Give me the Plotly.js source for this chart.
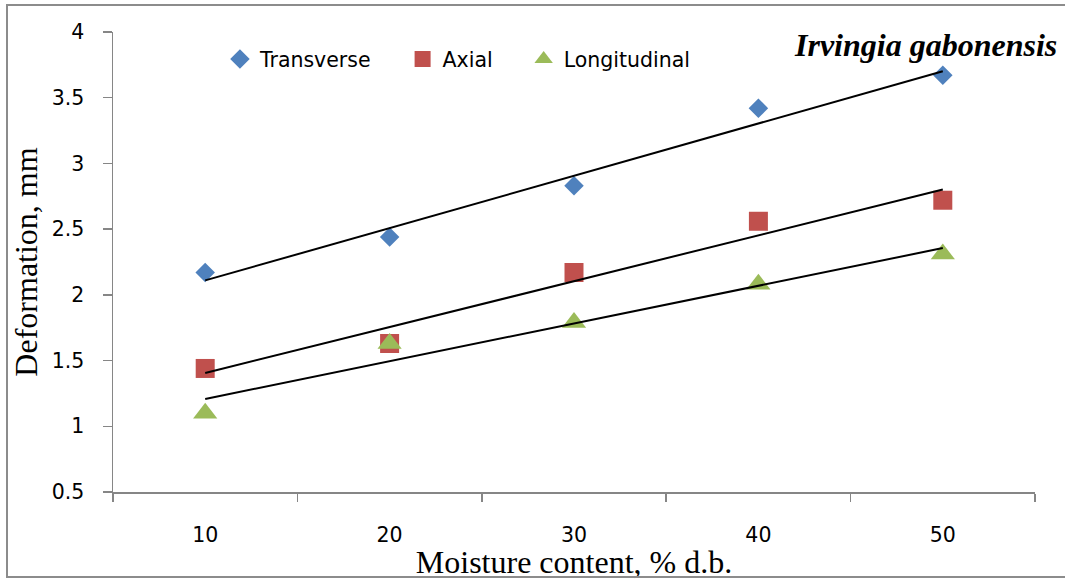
<!DOCTYPE html>
<html>
<head>
<meta charset="utf-8">
<script src="https://cdn.plot.ly/plotly-3.0.1.min.js"></script>
<style>
  html, body { margin: 0; padding: 0; background: #fff; }
  #wrap { position: relative; width: 1065px; height: 580px; overflow: hidden; }
  #chart { width: 1065px; height: 580px; }
  #frame { position: absolute; left: 6px; top: 4px; width: 1080px; height: 574px;
           border: 2px solid #8c8c8c; box-sizing: border-box; pointer-events: none; }
</style>
</head>
<body>
<div id="wrap">
  <div id="chart"></div>
  <div id="frame"></div>
</div>
<script>
// ---- data ----
const moisture = [10, 20, 30, 40, 50];
const moistureLabels = ["10", "20", "30", "40", "50"];
const transverse = [2.17, 2.44, 2.83, 3.42, 3.67];
const axial = [1.44, 1.63, 2.17, 2.56, 2.72];
const longitudinal = [1.10, 1.63, 1.79, 2.08, 2.31];
const seriesNames = ["Transverse", "Axial", "Longitudinal"];
const chartTitle = "Irvingia gabonensis";
const xTitle = "Moisture content, % d.b.";
const yTitle = "Deformation, mm";

// least-squares linear trendline from the data
function fit(xs, ys) {
  const n = xs.length;
  const mx = xs.reduce((a, b) => a + b, 0) / n;
  const my = ys.reduce((a, b) => a + b, 0) / n;
  let sxy = 0, sxx = 0;
  for (let i = 0; i < n; i++) { sxy += (xs[i] - mx) * (ys[i] - my); sxx += (xs[i] - mx) ** 2; }
  const b = sxy / sxx, a = my - b * mx;
  const x0 = xs[0], x1 = xs[n - 1];
  return { x: [x0, x1], y: [a + b * x0, a + b * x1] };
}

const colors = ["#4F81BD", "#C0504D", "#9BBB59"];
const symbols = ["diamond", "square", "triangle-up"];
const sizes = [15, 19, 21];
const allY = [transverse, axial, longitudinal];
const legendIds = ["legend", "legend2", "legend3"];

const traces = [];
allY.forEach((ys, i) => {
  traces.push({
    type: "scatter", mode: "markers", x: moisture, y: ys, name: seriesNames[i],
    marker: { color: colors[i], symbol: symbols[i], size: sizes[i], line: { width: 0 } },
    legend: legendIds[i], showlegend: true, cliponaxis: false
  });
});
allY.forEach((ys, i) => {
  const f = fit(moisture, ys);
  traces.push({
    type: "scatter", mode: "lines", x: f.x, y: f.y, showlegend: false,
    line: { color: "#000", width: 2 }, hoverinfo: "skip"
  });
});

const tickFont = { family: "DejaVu Sans", size: 20.5, color: "#000" };
const axisGrey = "#868686";
const legendBase = (x) => ({
  x: x, xanchor: "left", y: 0.941, yanchor: "middle", orientation: "h",
  font: tickFont, bgcolor: "rgba(0,0,0,0)", borderwidth: 0, itemwidth: 30
});

const layout = {
  width: 1065, height: 580,
  margin: { l: 113, r: 30, t: 32, b: 88 },
  paper_bgcolor: "#fff", plot_bgcolor: "#fff",
  xaxis: {
    range: [5, 55], tickmode: "array", tickvals: moisture, ticktext: moistureLabels,
    ticks: "", showline: true, linecolor: axisGrey, linewidth: 1.5,
    showgrid: false, zeroline: false, tickfont: tickFont, ticklabelstandoff: 24,
    minor: { ticks: "outside", tick0: 5, dtick: 10, ticklen: 8, tickcolor: axisGrey, tickwidth: 1.5, showgrid: false },
    title: { text: xTitle, font: { family: "Liberation Serif", size: 32, color: "#000" }, standoff: 2 },
    automargin: false, fixedrange: true
  },
  yaxis: {
    range: [0.5, 4], tick0: 0.5, dtick: 0.5, ticks: "outside", ticklen: 9,
    tickcolor: axisGrey, tickwidth: 1.5, showline: true, linecolor: axisGrey, linewidth: 1.5,
    showgrid: false, zeroline: false, tickfont: tickFont, ticklabelstandoff: 14,
    title: { text: yTitle, font: { family: "Liberation Serif", size: 32, color: "#000" }, standoff: 4 },
    automargin: false, fixedrange: true
  },
  legend: legendBase(0.1160),
  legend2: legendBase(0.3141),
  legend3: legendBase(0.4454),
  annotations: [{
    text: chartTitle, xref: "paper", yref: "paper", x: 0.8807, y: 0.9717,
    xanchor: "center", yanchor: "middle", showarrow: false,
    font: { family: "Liberation Serif", size: 32, color: "#000", weight: "bold", style: "italic" }
  }],
  showlegend: true
};

Plotly.newPlot("chart", traces, layout, { displayModeBar: false, staticPlot: true });
</script>
</body>
</html>
